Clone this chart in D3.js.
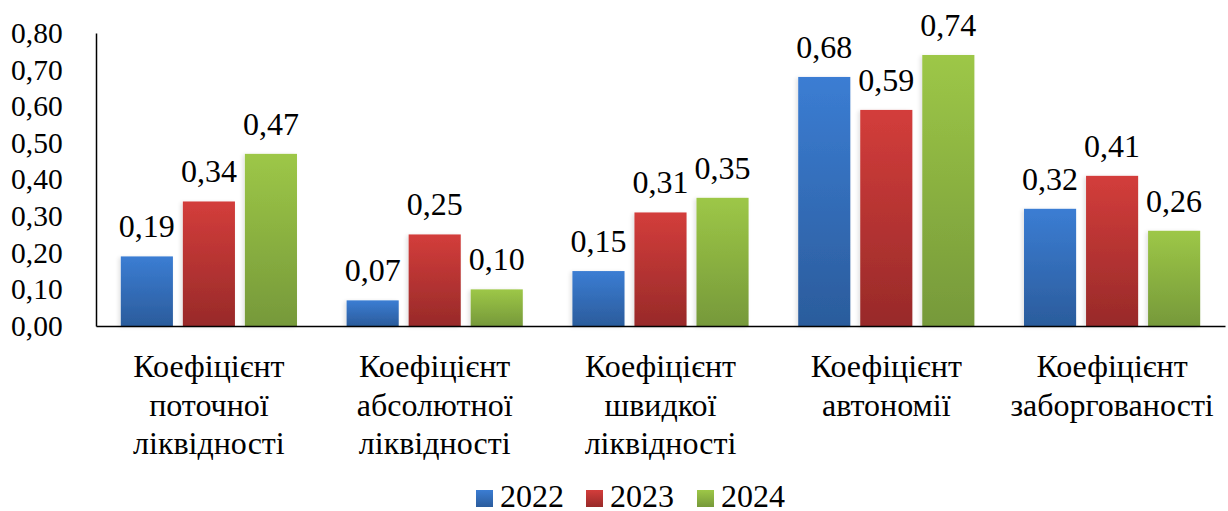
<!DOCTYPE html>
<html>
<head>
<meta charset="utf-8">
<script src="https://cdn.jsdelivr.net/npm/d3@7"></script>
</head>
<body style="margin:0">
<script>
const categories = [
  ['Коефіцієнт', 'поточної', 'ліквідності'],
  ['Коефіцієнт', 'абсолютної', 'ліквідності'],
  ['Коефіцієнт', 'швидкої', 'ліквідності'],
  ['Коефіцієнт', 'автономії'],
  ['Коефіцієнт', 'заборгованості']
];
const years = ['2022', '2023', '2024'];
const values2022 = [0.19, 0.07, 0.15, 0.68, 0.32];
const values2023 = [0.34, 0.25, 0.31, 0.59, 0.41];
const values2024 = [0.47, 0.10, 0.35, 0.74, 0.26];
const yTicks = [0, 0.1, 0.2, 0.3, 0.4, 0.5, 0.6, 0.7, 0.8];

const colors = {
  '2022': ['#3b7dd3', '#2b5c9c'],
  '2023': ['#d33d3b', '#982a29'],
  '2024': ['#9dc747', '#76993a']
};

const series = [values2022, values2023, values2024];
const data = categories.map((c, i) => ({
  idx: i,
  lines: c,
  vals: years.map((y, j) => ({year: y, value: series[j][i]}))
}));

const width = 1228, height = 511;
const margin = {top: 33, right: 3, bottom: 185, left: 96};
const innerW = width - margin.left - margin.right;
const innerH = height - margin.top - margin.bottom;
const fontFam = "'Liberation Serif', 'Times New Roman', serif";

const fmt = v => v.toFixed(2).replace('.', ',');

const svg = d3.select('body').append('svg')
  .attr('width', width)
  .attr('height', height)
  .style('font-family', fontFam);

const defs = svg.append('defs');
years.forEach(y => {
  const lg = defs.append('linearGradient')
    .attr('id', 'grad' + y)
    .attr('x1', 0).attr('y1', 0).attr('x2', 0).attr('y2', 1);
  lg.append('stop').attr('offset', '0%').attr('stop-color', colors[y][0]);
  lg.append('stop').attr('offset', '100%').attr('stop-color', colors[y][1]);
});

const shadow = defs.append('filter').attr('id', 'shadow')
  .attr('x', '-20%').attr('y', '-10%').attr('width', '140%').attr('height', '120%');
shadow.append('feGaussianBlur').attr('in', 'SourceAlpha').attr('stdDeviation', 2).attr('result', 'blur');
shadow.append('feOffset').attr('dx', -2).attr('dy', 1).attr('result', 'off');
shadow.append('feComponentTransfer').append('feFuncA').attr('type', 'linear').attr('slope', 0.12);
const merge = shadow.append('feMerge');
merge.append('feMergeNode');
merge.append('feMergeNode').attr('in', 'SourceGraphic');

const g = svg.append('g')
  .attr('transform', 'translate(' + margin.left + ',' + margin.top + ')');

const x0 = d3.scaleBand()
  .domain(data.map(d => d.idx))
  .range([0, innerW]);

const x1 = d3.scaleBand()
  .domain(years)
  .range([0, x0.bandwidth()])
  .paddingInner(0.16)
  .paddingOuter(0.4);

const y = d3.scaleLinear()
  .domain([0, 0.8])
  .range([innerH, 0]);

// y axis
const yAxis = g.append('g')
  .call(d3.axisLeft(y).tickValues(yTicks).tickFormat(fmt).tickSize(0));
yAxis.attr('font-family', null).attr('font-size', null);
yAxis.select('.domain').attr('stroke', '#000').attr('stroke-width', 1.5);
yAxis.selectAll('text')
  .style('font-family', fontFam)
  .style('font-size', '29.5px')
  .attr('fill', '#000')
  .attr('text-anchor', 'start')
  .attr('x', -85);

// bars
const groups = g.selectAll('.group')
  .data(data)
  .enter().append('g')
  .attr('class', 'group')
  .attr('transform', d => 'translate(' + x0(d.idx) + ',0)');

groups.selectAll('rect')
  .data(d => d.vals)
  .enter().append('rect')
  .attr('x', d => x1(d.year))
  .attr('y', d => y(d.value))
  .attr('width', x1.bandwidth())
  .attr('height', d => innerH - y(d.value))
  .attr('fill', d => 'url(#grad' + d.year + ')')
  .attr('filter', 'url(#shadow)');

groups.selectAll('.val')
  .data(d => d.vals)
  .enter().append('text')
  .attr('class', 'val')
  .attr('x', d => x1(d.year) + x1.bandwidth() / 2)
  .attr('y', d => y(d.value) - 19)
  .attr('text-anchor', 'middle')
  .style('font-family', fontFam)
  .style('font-size', '32px')
  .text(d => fmt(d.value));

// x axis
const xAxis = g.append('g')
  .attr('transform', 'translate(0,' + innerH + ')')
  .call(d3.axisBottom(x0).tickSize(0).tickFormat(''));
xAxis.select('.domain').attr('stroke', '#000').attr('stroke-width', 1.5);

groups.each(function(d) {
  d.lines.forEach((line, i) => {
    d3.select(this).append('text')
      .attr('x', x0.bandwidth() / 2)
      .attr('y', innerH + 51 + i * 38.5)
      .attr('text-anchor', 'middle')
      .style('font-family', fontFam)
      .style('font-size', '32px')
      .text(line);
  });
});

// legend
const legendX = [476, 586, 697];
const legend = svg.append('g').attr('class', 'legend');
years.forEach((yr, i) => {
  const it = legend.append('g').attr('transform', 'translate(' + legendX[i] + ',490)');
  it.append('rect')
    .attr('width', 17).attr('height', 17)
    .attr('fill', 'url(#grad' + yr + ')');
  it.append('text')
    .attr('x', 24).attr('y', 17)
    .style('font-family', fontFam)
    .style('font-size', '32px')
    .text(yr);
});
</script>
</body>
</html>
